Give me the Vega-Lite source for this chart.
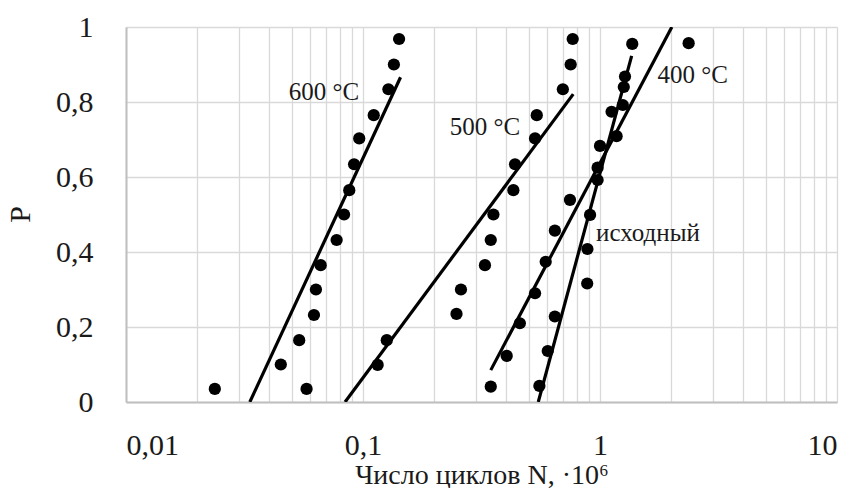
{
  "$schema": "https://vega.github.io/schema/vega-lite/v6.json",
  "width": 711,
  "height": 375,
  "autosize": {"type": "none"},
  "padding": {"left": 126, "top": 27, "right": 21, "bottom": 86},
  "background": "white",
  "config": {
    "view": {"stroke": null},
    "font": "Liberation Serif",
    "axis": {"labelFont": "Liberation Serif", "titleFont": "Liberation Serif", "labelColor": "#1a1a1a", "titleColor": "#1a1a1a", "titleFontWeight": "normal", "gridColor": "#d9d9d9", "gridWidth": 1.3, "domainColor": "#bfbfbf", "domainWidth": 2, "ticks": false, "tickSize": 0}
  },
  "datasets": {
    "pts": [
      {"s": "600", "N": 0.0237, "P": 0.035},
      {"s": "600", "N": 0.045, "P": 0.1},
      {"s": "600", "N": 0.0538, "P": 0.165},
      {"s": "600", "N": 0.0621, "P": 0.232},
      {"s": "600", "N": 0.0633, "P": 0.3},
      {"s": "600", "N": 0.0663, "P": 0.365},
      {"s": "600", "N": 0.0774, "P": 0.432},
      {"s": "600", "N": 0.0832, "P": 0.5},
      {"s": "600", "N": 0.0875, "P": 0.565},
      {"s": "600", "N": 0.0917, "P": 0.634},
      {"s": "600", "N": 0.0964, "P": 0.703},
      {"s": "600", "N": 0.111, "P": 0.765},
      {"s": "600", "N": 0.128, "P": 0.834},
      {"s": "600", "N": 0.135, "P": 0.9},
      {"s": "600", "N": 0.142, "P": 0.968},
      {"s": "500", "N": 0.0578, "P": 0.035},
      {"s": "500", "N": 0.1153, "P": 0.099},
      {"s": "500", "N": 0.126, "P": 0.165},
      {"s": "500", "N": 0.248, "P": 0.235},
      {"s": "500", "N": 0.259, "P": 0.3},
      {"s": "500", "N": 0.327, "P": 0.365},
      {"s": "500", "N": 0.346, "P": 0.432},
      {"s": "500", "N": 0.355, "P": 0.5},
      {"s": "500", "N": 0.431, "P": 0.565},
      {"s": "500", "N": 0.438, "P": 0.634},
      {"s": "500", "N": 0.532, "P": 0.703},
      {"s": "500", "N": 0.541, "P": 0.765},
      {"s": "500", "N": 0.697, "P": 0.834},
      {"s": "500", "N": 0.752, "P": 0.9},
      {"s": "500", "N": 0.767, "P": 0.968},
      {"s": "400", "N": 0.346, "P": 0.041},
      {"s": "400", "N": 0.404, "P": 0.123},
      {"s": "400", "N": 0.459, "P": 0.21},
      {"s": "400", "N": 0.532, "P": 0.29},
      {"s": "400", "N": 0.59, "P": 0.374},
      {"s": "400", "N": 0.645, "P": 0.457},
      {"s": "400", "N": 0.747, "P": 0.539},
      {"s": "400", "N": 0.977, "P": 0.625},
      {"s": "400", "N": 1.175, "P": 0.709},
      {"s": "400", "N": 1.248, "P": 0.792},
      {"s": "400", "N": 1.26, "P": 0.84},
      {"s": "400", "N": 2.366, "P": 0.957},
      {"s": "исходный", "N": 0.555, "P": 0.043},
      {"s": "исходный", "N": 0.602, "P": 0.136},
      {"s": "исходный", "N": 0.645, "P": 0.228},
      {"s": "исходный", "N": 0.883, "P": 0.316},
      {"s": "исходный", "N": 0.885, "P": 0.408},
      {"s": "исходный", "N": 0.908, "P": 0.499},
      {"s": "исходный", "N": 0.977, "P": 0.592},
      {"s": "исходный", "N": 1.0, "P": 0.683},
      {"s": "исходный", "N": 1.119, "P": 0.774},
      {"s": "исходный", "N": 1.275, "P": 0.868},
      {"s": "исходный", "N": 1.368, "P": 0.955}
    ],
    "lines": [
      {"s": "600", "N": 0.0333, "P": 0.0},
      {"s": "600", "N": 0.144, "P": 0.866},
      {"s": "500", "N": 0.084, "P": 0.0},
      {"s": "500", "N": 0.771, "P": 0.821},
      {"s": "400", "N": 0.346, "P": 0.085},
      {"s": "400", "N": 2.01, "P": 1.0},
      {"s": "исходный", "N": 0.549, "P": 0.0},
      {"s": "исходный", "N": 1.36, "P": 0.923}
    ],
    "labels": [
      {"t": "600 °C", "N": 0.0685, "P": 0.827},
      {"t": "500 °C", "N": 0.327, "P": 0.734},
      {"t": "400 °C", "N": 2.46, "P": 0.872},
      {"t": "исходный", "N": 1.594, "P": 0.45}
    ]
  },
  "encoding": {
    "x": {
      "field": "N", "type": "quantitative",
      "scale": {"type": "log", "domain": [0.01, 10], "nice": false},
      "axis": {
        "title": "Число циклов N, ·10⁶",
        "titleFontSize": 28,
        "titleBaseline": "middle",
        "titleY": 73,
        "labelFontSize": 30,
        "labelPadding": 28,
        "labelOverlap": false,
        "labelBaseline": "top",
        "values": [0.01, 0.02, 0.03, 0.04, 0.05, 0.06, 0.07, 0.08, 0.09, 0.1, 0.2, 0.3, 0.4, 0.5, 0.6, 0.7, 0.8, 0.9, 1, 2, 3, 4, 5, 6, 7, 8, 9, 10],
        "labelExpr": "datum.value == 0.01 ? '0,01' : datum.value == 0.1 ? '0,1' : datum.value == 1 ? '1' : datum.value == 10 ? '10' : ''"
      }
    },
    "y": {
      "field": "P", "type": "quantitative",
      "scale": {"domain": [0, 1], "nice": false},
      "axis": {
        "title": "P",
        "titleFontSize": 30,
        "titleBaseline": "middle",
        "titleX": -106,
        "titleY": 187,
        "labelFontSize": 30,
        "labelPadding": 33,
        "values": [0, 0.2, 0.4, 0.6, 0.8, 1],
        "labelExpr": "datum.value == 0 ? '0' : datum.value == 1 ? '1' : replace(format(datum.value, '.1f'), '.', ',')"
      }
    }
  },
  "layer": [
    {
      "data": {"name": "lines"},
      "mark": {"type": "line", "color": "black", "strokeWidth": 3.2, "clip": true},
      "encoding": {"detail": {"field": "s"}}
    },
    {
      "data": {"name": "pts"},
      "mark": {"type": "point", "shape": "circle", "filled": true, "color": "black", "opacity": 1, "size": 150}
    },
    {
      "data": {"name": "labels"},
      "mark": {"type": "text", "fontSize": 25, "font": "Liberation Serif", "color": "#1a1a1a", "align": "center", "baseline": "middle"},
      "encoding": {"text": {"field": "t"}}
    }
  ]
}
